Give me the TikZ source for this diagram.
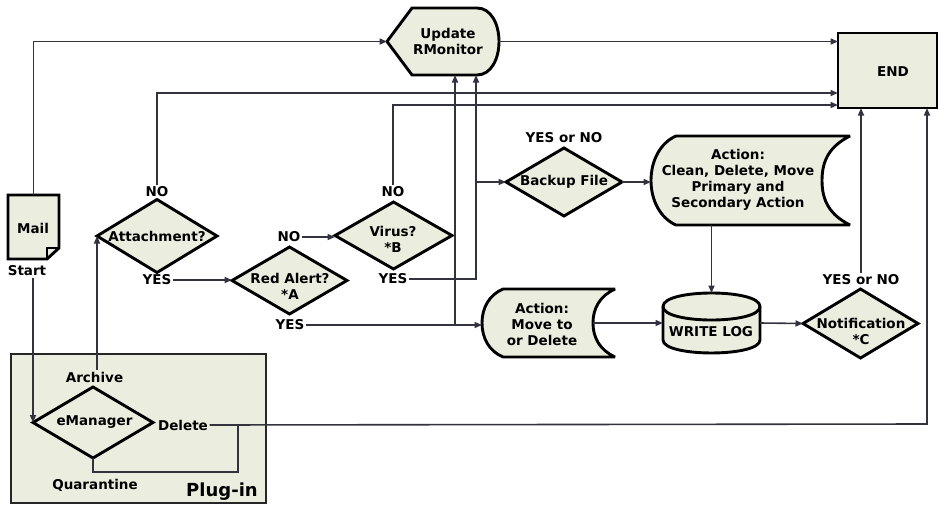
\documentclass[tikz,border=0pt]{standalone}
\usepackage{fontspec}
\setmainfont{DejaVu Sans}
\usetikzlibrary{arrows.meta,calc}
\definecolor{fillc}{HTML}{EBEEDF}
\definecolor{linec}{HTML}{33333F}
\begin{document}
\begin{tikzpicture}[x=1pt,y=-1pt,
  sz/.style 2 args={minimum width=#1pt, minimum height=#2pt, inner sep=0pt, outer sep=0pt},
  lbl/.style={font=\fontsize{13.5}{16}\selectfont\bfseries, inner sep=1.5pt, align=center},
  conn/.style={draw=linec, line width=1.6pt},
  arr/.style={conn, -{Triangle[length=7.5pt,width=6pt]}},
  shp/.style={draw=black, line width=2.9pt, fill=fillc, line join=miter, miter limit=4}]
\useasboundingbox (0,0) rectangle (938,504);
% shape frames
\node[sz={51}{64}] (mail) at (33.5,227) {};
\node[sz={112}{67}] (upd) at (443,41.5) {};
\node[sz={99}{75}] (endb) at (887.5,70.5) {};
\node[sz={120}{73}] (att) at (157,236) {};
\node[sz={115}{67}] (red) at (289.5,280.5) {};
\node[sz={117}{67}] (vir) at (393.5,235.5) {};
\node[sz={116}{68}] (bak) at (564,182) {};
\node[sz={199}{89}] (actC) at (750.5,180.5) {};
\node[sz={133}{68}] (actM) at (548.5,323) {};
\node[sz={97}{60}] (log) at (711.5,323) {};
\node[sz={115}{69}] (noti) at (860.5,323.5) {};
\node[sz={120}{71}] (emg) at (93,422.5) {};
\node[sz={255}{149}] (plug) at (138.5,428.5) {};
% shapes
\draw[shp, draw=black!85] (plug.north west) rectangle (plug.south east);
\draw[shp] (mail.north west) -- (mail.north east) -- ($(mail.south east)+(0,-11)$) -- ($(mail.south east)+(-12,0)$) -- (mail.south west) -- cycle;
\draw[line width=1.8pt] ($(mail.south east)+(0,-11)$) -- ($(mail.south east)+(-12,-11)$) -- ($(mail.south east)+(-12,0)$);
\draw[shp] (upd.west) -- (412,8) -- (477,8) .. controls (491,8) and (499,24) .. (upd.east) .. controls (499,59) and (491,75) .. (477,75) -- (412,75) -- cycle;
\draw[shp] (endb.north west) rectangle (endb.south east);
\foreach \n in {att,red,vir,bak,noti,emg}
  \draw[shp] (\n.west) -- (\n.north) -- (\n.east) -- (\n.south) -- cycle;
\draw[shp] (676,136) -- (850,136) .. controls (830,146) and (822,160) .. (822,180.5) .. controls (822,201) and (830,215) .. (850,225) -- (676,225) .. controls (660,218) and (651,200) .. (651,180.5) .. controls (651,161) and (660,143) .. (676,136) -- cycle;
\draw[shp] (503,289) -- (615,289) .. controls (600,296) and (593,308) .. (593,323) .. controls (593,338) and (600,350) .. (615,357) -- (503,357) .. controls (489,351) and (482,338) .. (482,323) .. controls (482,308) and (489,295) .. (503,289) -- cycle;
\draw[shp] (663,306.5) -- (663,340) .. controls (663,357.3) and (760,357.3) .. (760,340) -- (760,306.5) .. controls (760,288.5) and (663,288.5) .. (663,306.5) -- cycle;
\draw[shp, fill=none] (663,306.5) .. controls (663,324.5) and (760,324.5) .. (760,306.5);
% texts
\node[lbl] (mailT) at (33,228) {Mail};
\node[lbl] (start) at (27,271) {Start};
\node[lbl, font=\fontsize{13.5}{16.5}\selectfont\bfseries] (updT) at (448,41.5) {Update\\RMonitor};
\node[lbl] (endT) at (893,72) {END};
\node[lbl] (attNO) at (157,192) {NO};
\node[lbl] (attT) at (157,236) {Attachment?};
\node[lbl] (attY) at (157,280) {YES};
\node[lbl] (redNO) at (289,237) {NO};
\node[lbl] (redT) at (290,286.5) {Red Alert?\\*A};
\node[lbl] (redY) at (290,325) {YES};
\node[lbl] (virNO) at (393,192) {NO};
\node[lbl] (virT) at (393,239) {Virus?\\*B};
\node[lbl] (virY) at (393,279) {YES};
\node[lbl] (bakL) at (564,138) {YES or NO};
\node[lbl] (bakT) at (564,182) {Backup File};
\node[lbl] (actCT) at (738,180) {Action:\\Clean, Delete, Move\\Primary and\\Secondary Action};
\node[lbl] (actMT) at (542,324.5) {Action:\\Move to\\or Delete};
\node[lbl] (logT) at (711,332) {WRITE LOG};
\node[lbl] (notiL) at (861,280) {YES or NO};
\node[lbl] (notiT) at (861,331.5) {Notification\\*C};
\node[lbl] (arch) at (94.5,377) {Archive};
\node[lbl] (emgT) at (94.5,422) {eManager};
\node[lbl] (del) at (183,425) {Delete};
\node[lbl] (quar) at (95,485) {Quarantine};
\node[lbl, font=\fontsize{18}{20}\selectfont\bfseries] (plugT) at (222,492) {Plug-in};
% connectors
\draw[arr] (mail.north) |- (upd.west);
\draw[arr] (upd.east) -- (upd.east -| endb.west);
\path (endb.north west) ++(0,60) coordinate (endW2) ++(0,12) coordinate (endW3);
\draw[arr] (attNO.north) |- (endW2);
\draw[arr] (virNO.north) |- (endW3);
\draw[arr] (attY.east) -- (attY.east -| red.west);
\draw[arr] (redNO.east) -- (redNO.east -| vir.west);
\coordinate (jA) at (455,325);
\draw[arr] (redY.east) -- (redY.east -| actM.west);
\draw[arr] (jA) -- (jA |- upd.south);
\coordinate (jB) at (476,279);
\draw[arr] (virY.east) -- (jB) -- (jB |- upd.south);
\draw[arr] (jB |- bak.west) -- (bak.west);
\draw[arr] (bak.east) -- (bak.east -| actC.west);
\draw[arr] (log.north |- actC.south) -- (log.north);
\coordinate (actMr) at (593,323);
\draw[arr] (actMr) -- (log.west);
\draw[arr] (log.east) -- (noti.west);
\draw[arr] (notiL.north) -- (notiL.north |- endb.south);
\coordinate (delR) at (927,424);
\draw[arr] (del.east) -- (delR) -- (delR |- endb.south);
\coordinate (jC) at (238,472);
\draw[conn] (emg.south) |- (jC) -- (jC |- del.east);
\draw[arr] (att.west |- arch.north) -- (att.west);
\draw[arr] (start.south -| emg.west) -- (emg.west);
\end{tikzpicture}
\end{document}
